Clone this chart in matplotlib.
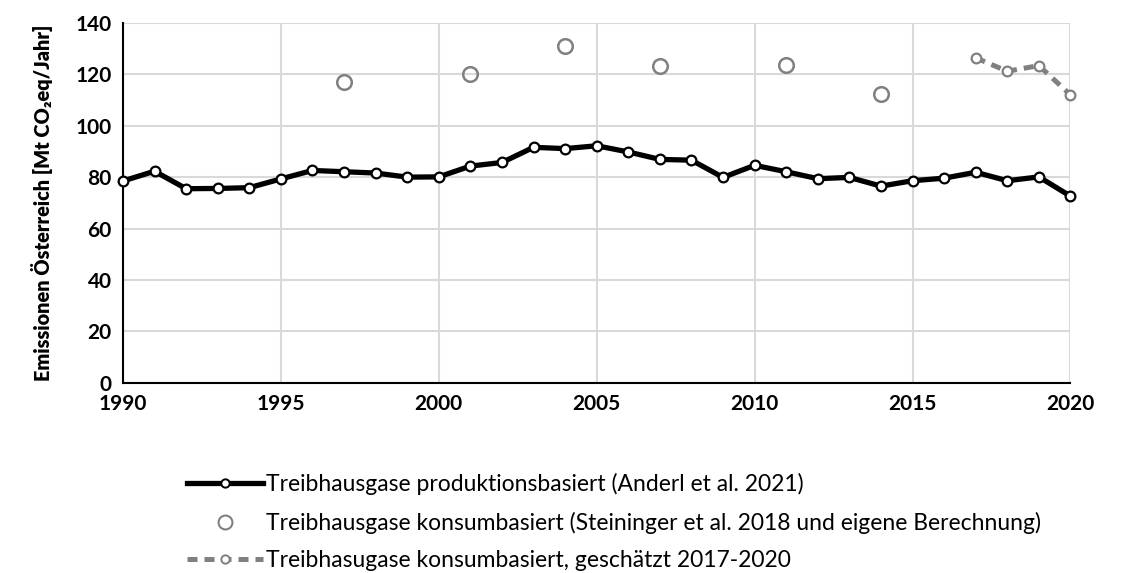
import matplotlib.pyplot as plt
from matplotlib.lines import Line2D

# production-based emissions 1990-2020
years = list(range(1990, 2021))
produktion = [78.5, 82.3, 75.5, 75.6, 75.9, 79.3, 82.6, 82.1, 81.6, 80.0,
              80.1, 84.3, 85.7, 91.6, 91.1, 92.2, 89.8, 86.9, 86.6, 79.9,
              84.6, 82.1, 79.4, 79.9, 76.5, 78.6, 79.6, 81.9, 78.6, 80.1,
              72.6]

# consumption-based (study years)
konsum_years = [1997, 2001, 2004, 2007, 2011, 2014]
konsum = [116.9, 120.0, 131.0, 123.4, 123.6, 112.5]

# consumption-based, estimated
schaetz_years = [2017, 2018, 2019, 2020]
schaetz = [126.4, 121.2, 123.4, 112.0]

labels = ['Treibhausgase produktionsbasiert (Anderl et al. 2021)',
          'Treibhausgase konsumbasiert (Steininger et al. 2018 und eigene Berechnung)',
          'Treibhasugase konsumbasiert, geschätzt 2017-2020']

plt.rcParams['font.family'] = ['Lato', 'DejaVu Sans']

fig = plt.figure(figsize=(11.28, 5.73), dpi=100)
ax = fig.add_axes([0.109, 0.332, 0.840, 0.628])

grid_c = '#d9d9d9'
gray = '#808080'

ax.plot(years, produktion, '-', color='black', lw=3.8, marker='o', ms=7,
        mfc='white', mec='black', mew=1.6, zorder=4, clip_on=False)
ax.plot(konsum_years, konsum, 'o', ms=10.5, mfc='none', mec=gray, mew=1.8,
        zorder=3, clip_on=False)
ax.plot(schaetz_years, schaetz, '--', color=gray, lw=3.6, dashes=(2.0, 1.4),
        marker='o', ms=7, mfc='white', mec=gray, mew=1.6, zorder=3,
        clip_on=False)

ax.set_xlim(1990, 2020)
ax.set_ylim(0, 140)
ax.set_xticks(range(1990, 2021, 5))
ax.set_yticks(range(0, 141, 20))
ax.grid(True, color=grid_c, lw=1.5, zorder=0)
ax.set_axisbelow(True)
for s in ['top', 'right']:
    ax.spines[s].set_visible(False)
ax.spines['left'].set_linewidth(1.5)
ax.spines['bottom'].set_linewidth(1.5)
ax.tick_params(length=0, labelsize=15, pad=8)
for lab in ax.get_xticklabels() + ax.get_yticklabels():
    lab.set_fontweight('bold')

# y label drawn as a plain text in axes coords so the bold weight sticks
ax.text(-0.085, 0.5, 'Emissionen Österreich [Mt CO\u2082eq/Jahr]',
        transform=ax.transAxes, rotation=90, ha='center', va='center',
        fontsize=14.3, fontweight='heavy')

handles = [
    Line2D([], [], color='black', lw=3.8, marker='o', ms=6, mfc='white',
           mec='black', mew=1.4),
    Line2D([], [], ls='none', marker='o', ms=10, mfc='none', mec=gray, mew=1.5),
    Line2D([], [], color=gray, lw=3.6, ls='--', dashes=(2.0, 1.4), marker='o',
           ms=6, mfc='white', mec=gray, mew=1.4),
]
fig.legend(handles, labels, loc='upper left', bbox_to_anchor=(0.1576, 0.19),
           frameon=False, fontsize=16.5, handlelength=3.3, handletextpad=0.15,
           labelspacing=0.72, borderaxespad=0)

fig.savefig('out.png', dpi=100)
